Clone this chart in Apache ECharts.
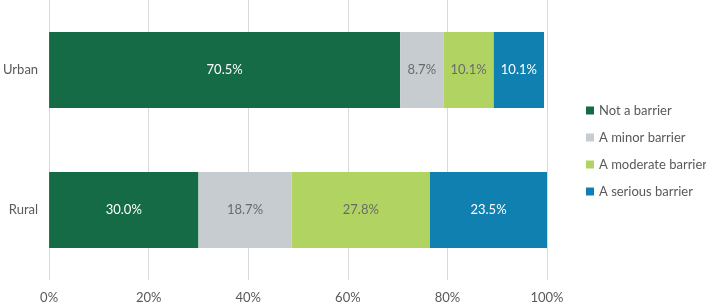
<!DOCTYPE html>
<html><head><meta charset="utf-8">
<script src="https://cdn.jsdelivr.net/npm/echarts@6/dist/echarts.min.js"></script>
<style>html,body{margin:0;padding:0;background:#fff}#c{width:706px;height:305px}</style>
</head><body><div id="c"></div>
<script>
const categories = ['Rural', 'Urban'];
const seriesNames = ['Not a barrier', 'A minor barrier', 'A moderate barrier', 'A serious barrier'];
const notBarrier = [30.0, 70.5];
const minorBarrier = [18.7, 8.7];
const moderateBarrier = [27.8, 10.1];
const seriousBarrier = [23.5, 10.1];
const xTicks = [0, 20, 40, 60, 80, 100];

const colors = ['#156B45', '#C6CCCF', '#B1D362', '#0F80B0'];
const labelColors = ['#ffffff', '#6b6b6b', '#6b6b6b', '#ffffff'];
const values = [notBarrier, minorBarrier, moderateBarrier, seriousBarrier];
const font = 'Lato, "Open Sans", sans-serif';

const chart = echarts.init(document.getElementById('c'));
chart.setOption({
  animation: false,
  textStyle: {fontFamily: font},
  grid: {left: 47, right: 159, top: 0, bottom: 25},
  legend: {
    orient: 'vertical', left: 581, top: 99, itemWidth: 8, itemHeight: 8, itemGap: 14,
    icon: 'rect', textStyle: {color: '#595959', fontSize: 13, fontFamily: font},
    data: seriesNames
  },
  xAxis: {
    type: 'value', min: 0, max: 100, interval: 20,
    axisLabel: {formatter: v => xTicks.includes(v) ? v + '%' : '', color: '#595959', fontSize: 13, margin: 11},
    splitLine: {lineStyle: {color: '#d9d9d9'}},
    axisLine: {show: false}, axisTick: {show: false}
  },
  yAxis: {
    type: 'category', data: categories,
    axisLabel: {color: '#595959', fontSize: 13, margin: 11},
    axisLine: {show: false}, axisTick: {show: false}
  },
  series: seriesNames.map((n, i) => ({
    name: n, type: 'bar', stack: 'all', barWidth: 76,
    itemStyle: {color: colors[i]},
    label: {show: true, position: 'inside', color: labelColors[i], fontSize: 13, fontFamily: font,
      formatter: p => p.value.toFixed(1) + '%'},
    data: values[i]
  }))
});
</script></body></html>
